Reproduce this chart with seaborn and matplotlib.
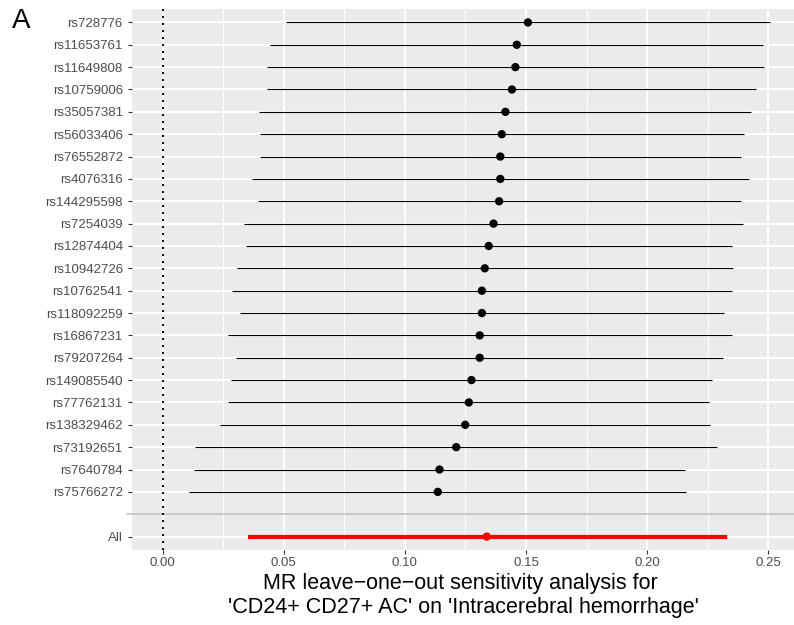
import matplotlib
matplotlib.use("Agg")
import matplotlib.pyplot as plt
import seaborn as sns
import numpy as np
import pandas as pd

# ---- data ----
snps = ["rs728776", "rs11653761", "rs11649808", "rs10759006", "rs35057381",
        "rs56033406", "rs76552872", "rs4076316", "rs144295598", "rs7254039",
        "rs12874404", "rs10942726", "rs10762541", "rs118092259", "rs16867231",
        "rs79207264", "rs149085540", "rs77762131", "rs138329462", "rs73192651",
        "rs7640784", "rs75766272"]
b = [0.1508, 0.1462, 0.1456, 0.1442, 0.1415, 0.1400, 0.1394, 0.1394, 0.1389,
     0.1366, 0.1346, 0.1330, 0.1318, 0.1318, 0.1309, 0.1309, 0.1275, 0.1264,
     0.1249, 0.1212, 0.1143, 0.1136]
lo = [0.0511, 0.0445, 0.0433, 0.0433, 0.0400, 0.0401, 0.0404, 0.0368, 0.0393,
      0.0337, 0.0344, 0.0307, 0.0287, 0.0319, 0.0271, 0.0305, 0.0283, 0.0272,
      0.0238, 0.0134, 0.0131, 0.0110]
hi = [0.2507, 0.2478, 0.2482, 0.2451, 0.2430, 0.2400, 0.2386, 0.2421, 0.2386,
      0.2396, 0.2351, 0.2353, 0.2349, 0.2318, 0.2349, 0.2313, 0.2268, 0.2256,
      0.2260, 0.2287, 0.2156, 0.2161]
all_label = "All"
all_b = 0.1338
all_lo = 0.0353
all_hi = 0.2330
x_ticks = [0.00, 0.05, 0.10, 0.15, 0.20, 0.25]
x_tick_labels = ["0.00", "0.05", "0.10", "0.15", "0.20", "0.25"]
x_title = ("MR leave\u2212one\u2212out sensitivity analysis for \n"
           "'CD24+ CD27+ AC' on 'Intracerebral hemorrhage'")
panel_tag = "A"

# ---- table ----
df = pd.DataFrame({"SNP": snps, "b": b, "lo": lo, "hi": hi,
                   "pos": np.arange(len(snps))})
df_all = pd.DataFrame({"SNP": [all_label], "b": [all_b], "lo": [all_lo],
                       "hi": [all_hi], "pos": [len(snps) + 1]})
blank_pos = len(snps)
tick_pos = list(df["pos"]) + list(df_all["pos"])
tick_lab = list(df["SNP"]) + list(df_all["SNP"])
n_slots = len(snps) + 2

sns.set_theme(style="darkgrid", rc={
    "axes.facecolor": "#EBEBEB",
    "grid.color": "white",
    "axes.edgecolor": "none",
})
plt.rcParams["font.family"] = ["Liberation Sans", "DejaVu Sans"]

W, H = 794, 625
fig = plt.figure(figsize=(W / 100, H / 100), dpi=100)
ax = fig.add_axes([132 / W, 75 / H, 662 / W, 541 / H])

# blank-row separator (reaches into the tick area like the reference)
ax.axhline(blank_pos, xmin=-0.008, xmax=1, color="#BEBEBE", lw=1.1,
           zorder=2, clip_on=False)
# reference line at 0
ax.axvline(0, color="black", lw=1.4, linestyle=(0, (1, 2.6)), zorder=2)

# leave-one-out estimates
ax.hlines(df["pos"], df["lo"], df["hi"], color="black", lw=0.8, zorder=3)
sns.scatterplot(data=df, x="b", y="pos", color="black", s=36,
                edgecolor="none", ax=ax, zorder=4, legend=False)
# overall
ax.hlines(df_all["pos"], df_all["lo"], df_all["hi"], color="red", lw=3.0, zorder=3)
sns.scatterplot(data=df_all, x="b", y="pos", color="red", s=36,
                edgecolor="none", ax=ax, zorder=4, legend=False)

ax.set_xlim(-0.0126, 0.2606)
ax.set_ylim(n_slots - 1 + 0.6, -0.6)

ax.set_yticks(tick_pos)
ax.set_yticklabels(tick_lab)
ax.set_xticks(x_ticks)
ax.set_xticklabels(x_tick_labels)
ax.set_xticks(np.arange(0.025, 0.25, 0.05), minor=True)

ax.grid(which="major", color="white", lw=1.45)
ax.grid(which="minor", axis="x", color="white", lw=0.7)
ax.grid(which="minor", axis="y", visible=False)
ax.tick_params(axis="both", which="major", length=3, width=0.8,
               color="#333333", labelcolor="#4D4D4D", labelsize=9.5,
               bottom=True, left=True)
ax.tick_params(axis="x", which="major", pad=2)
ax.tick_params(axis="y", which="major", pad=3.6)
ax.tick_params(axis="both", which="minor", length=0)
for s in ax.spines.values():
    s.set_visible(False)

ax.set_ylabel("")
ax.set_xlabel(x_title, fontsize=15.5, color="black", linespacing=1.15,
              labelpad=3)

fig.text(12 / W, 1 - 28.3 / H, panel_tag, fontsize=20, color="black",
         ha="left", va="baseline")

fig.savefig("out.png", dpi=100)
